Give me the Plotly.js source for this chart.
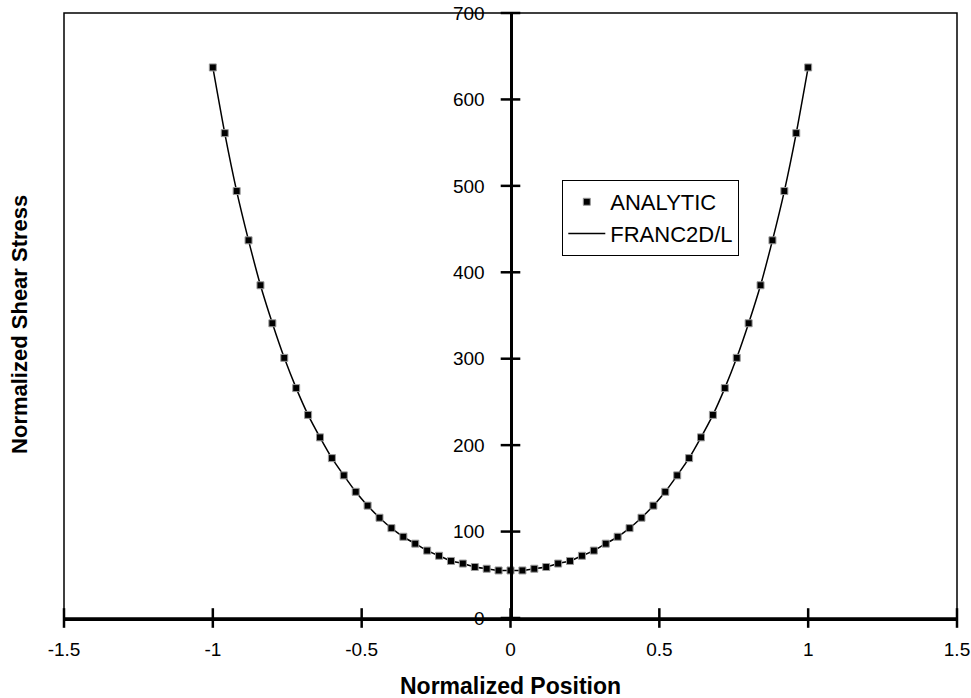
<!DOCTYPE html>
<html>
<head>
<meta charset="utf-8">
<script src="https://cdn.plot.ly/plotly-3.0.1.min.js"></script>
<style>html,body{margin:0;padding:0;background:#fff;}#chart{width:971px;height:698px;}</style>
</head>
<body>
<div id="chart"></div>
<script>
var positions = [-1, -0.96, -0.92, -0.88, -0.84, -0.8, -0.76, -0.72, -0.68, -0.64, -0.6, -0.56, -0.52, -0.48, -0.44, -0.4, -0.36, -0.32, -0.28, -0.24, -0.2, -0.16, -0.12, -0.08, -0.04, 0,
  0.04, 0.08, 0.12, 0.16, 0.2, 0.24, 0.28, 0.32, 0.36, 0.4, 0.44, 0.48, 0.52, 0.56, 0.6, 0.64, 0.68, 0.72, 0.76, 0.8, 0.84, 0.88, 0.92, 0.96, 1];
var analytic = [637, 561, 494, 437, 385, 341, 301, 266, 235, 209, 185, 165, 146, 130, 116, 104, 94, 86, 78, 72, 66, 63, 59, 57, 55, 55,
  55, 57, 59, 63, 66, 72, 78, 86, 94, 104, 116, 130, 146, 165, 185, 209, 235, 266, 301, 341, 385, 437, 494, 561, 637];
var franc = [637, 561, 494, 437, 385, 341, 301, 266, 235, 209, 185, 165, 146, 130, 116, 104, 94, 86, 78, 72, 66, 63, 59, 57, 55, 55,
  55, 57, 59, 63, 66, 72, 78, 86, 94, 104, 116, 130, 146, 165, 185, 209, 235, 266, 301, 341, 385, 437, 494, 561, 637];
var xTickVals = [-1.5, -1, -0.5, 0, 0.5, 1, 1.5];
var xTickText = ["-1.5", "-1", "-0.5", "0", "0.5", "1", "1.5"];
var yTickVals = [0, 100, 200, 300, 400, 500, 600, 700];
var yTickText = ["0", "100", "200", "300", "400", "500", "600", "700"];

var FONT = "Arial, 'Liberation Sans', sans-serif";

// crossing tick marks on the axes that meet at the origin
var xTickMarks = {
  x: xTickVals, y: xTickVals.map(function () { return 0; }),
  type: "scatter", mode: "markers", showlegend: false, hoverinfo: "skip", cliponaxis: false,
  marker: {symbol: "line-ns", size: 14, color: "#000", line: {color: "#000", width: 2.5}}
};
var yTickMarks = {
  x: yTickVals.map(function () { return 0; }), y: yTickVals,
  type: "scatter", mode: "markers", showlegend: false, hoverinfo: "skip", cliponaxis: false,
  marker: {symbol: "line-ew", size: 14, color: "#000", line: {color: "#000", width: 2.5}}
};

var traces = [
  xTickMarks,
  yTickMarks,
  {
    x: positions, y: franc, name: "FRANC2D/L", type: "scatter", mode: "lines",
    line: {color: "#000", width: 1.5, shape: "spline", smoothing: 0.6},
    legendrank: 2, hoverinfo: "skip"
  },
  {
    x: positions, y: analytic, name: "ANALYTIC", type: "scatter", mode: "markers",
    marker: {symbol: "square", size: 7, color: "#000", line: {color: "#9a9a9a", width: 1}},
    legendrank: 1
  }
];

var layout = {
  width: 971, height: 698,
  margin: {l: 64, r: 14, t: 13, b: 80},
  paper_bgcolor: "#fff", plot_bgcolor: "#fff",
  font: {family: FONT, color: "#000", size: 19},
  showlegend: true,
  legend: {
    x: 0.558, y: 0.724, xanchor: "left", yanchor: "top",
    bgcolor: "#fff", bordercolor: "#000", borderwidth: 1,
    font: {family: FONT, size: 22, color: "#000"},
    itemwidth: 37, tracegroupgap: 0
  },
  xaxis: {
    range: [-1.5, 1.5], tickmode: "array", tickvals: xTickVals, ticktext: xTickText,
    ticks: "", showline: true, linecolor: "#000", linewidth: 3, showgrid: false, zeroline: false,
    tickfont: {family: FONT, size: 19, color: "#000"}, ticklabelstandoff: 12
  },
  yaxis: {
    range: [0, 700], tickmode: "array", tickvals: yTickVals, ticktext: yTickText,
    ticks: "", showline: true, linecolor: "#000", linewidth: 3, showgrid: false, zeroline: false,
    tickfont: {family: FONT, size: 19, color: "#000"}, ticklabelstandoff: 21,
    anchor: "free", position: 0.5
  },
  shapes: [
    {type: "rect", xref: "paper", yref: "paper", x0: 0, x1: 1, y0: 0, y1: 1,
     line: {color: "#000", width: 1.5}, layer: "below"}
  ],
  annotations: [
    {text: "<b>Normalized Position</b>", xref: "paper", yref: "paper", x: 0.5, y: -0.112,
     xanchor: "center", yanchor: "middle", showarrow: false, font: {family: FONT, size: 23, color: "#000"}},
    {text: "<b>Normalized Shear Stress</b>", xref: "paper", yref: "paper", x: -0.05, y: 0.485,
     xanchor: "center", yanchor: "middle", textangle: -90, showarrow: false,
     font: {family: FONT, size: 22, color: "#000"}}
  ]
};

Plotly.newPlot("chart", traces, layout, {displayModeBar: false, staticPlot: true});
</script>
</body>
</html>
